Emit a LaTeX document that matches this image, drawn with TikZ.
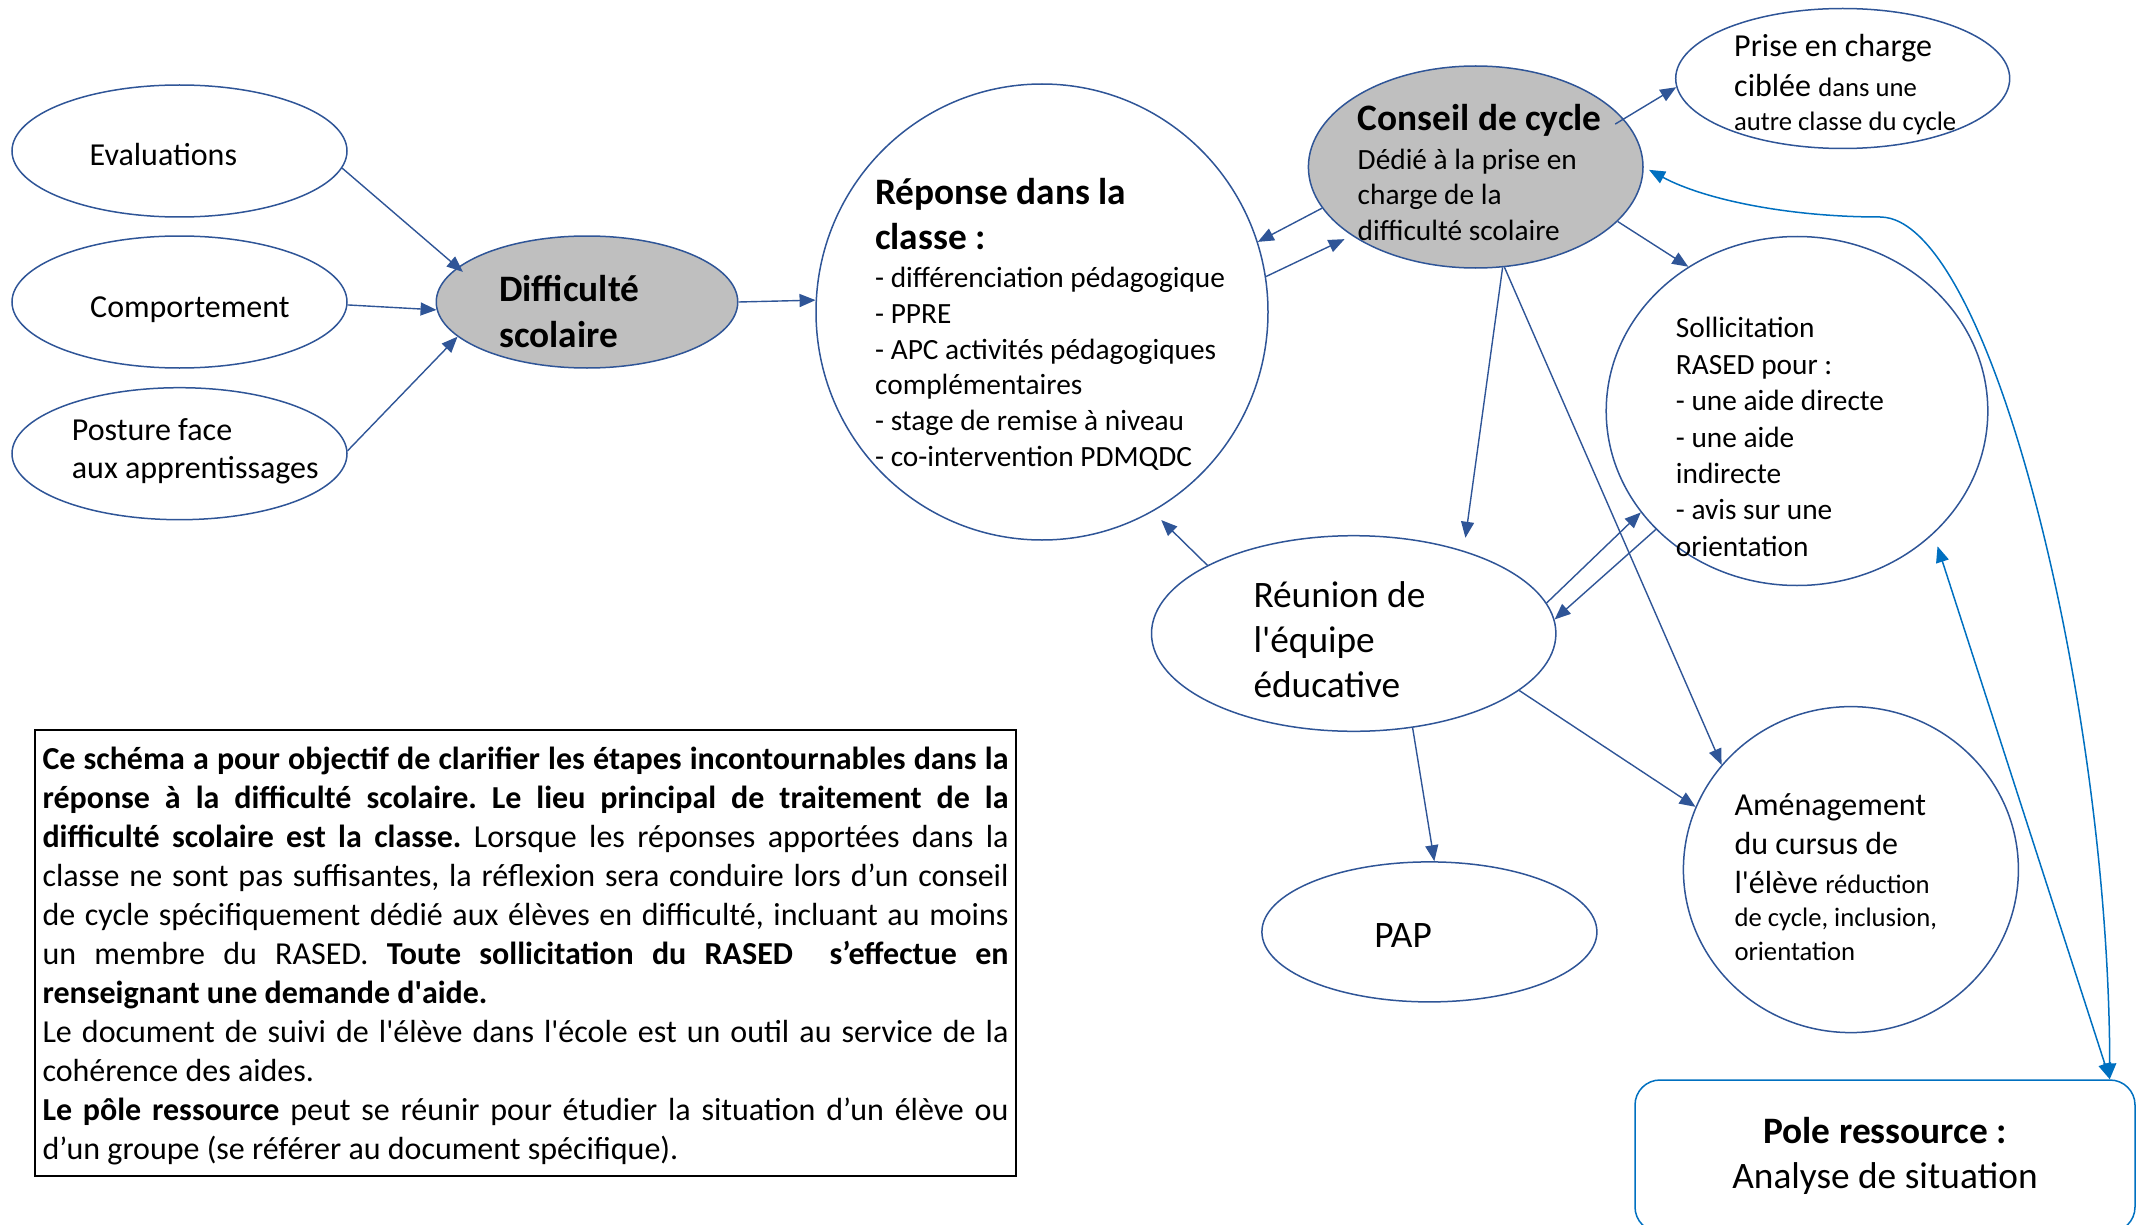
\documentclass[tikz,border=0pt]{standalone}
\usepackage{fontspec}
\setmainfont{Carlito}
\usetikzlibrary{shapes.geometric,arrows.meta}
\definecolor{bl}{HTML}{2F5597}
\definecolor{lb}{HTML}{0070C0}
\definecolor{gr}{HTML}{BFBFBF}
\newcommand{\fsz}[2]{\fontsize{#1}{#2}\selectfont}
\newcommand{\tlines}[1]{\begin{tabular}[t]{@{}l@{}}#1\end{tabular}}
\newcommand{\jl}[1]{\makebox[966pt][s]{#1}}
\newcommand{\aq}{\textquotesingle}
\frenchspacing
\begin{document}
\begin{tikzpicture}[x=1pt,y=-1pt,
  ell/.style={ellipse,draw=bl,line width=1.5pt,inner sep=0pt},
  gell/.style={ell,fill=gr},
  arr/.style={draw=bl,line width=1.4pt,-{Triangle[length=16pt,width=13pt]}},
  darr/.style={draw=lb,line width=1.5pt,{Triangle[length=16pt,width=13pt]}-{Triangle[length=16pt,width=13pt]}},
  txt/.style={anchor=base west,inner sep=0pt}]
\useasboundingbox (0,0) rectangle (2136,1225);

% shapes
\node[ell,minimum width=335pt,minimum height=132pt] (eval) at (179.5,151) {};
\node[ell,minimum width=335pt,minimum height=132pt] (comp) at (179.5,302) {};
\node[ell,minimum width=335pt,minimum height=132pt] (post) at (179.5,453.7) {};
\node[gell,minimum width=301.5pt,minimum height=132pt] (diff) at (587,302) {};
\node[ell,minimum width=452pt,minimum height=456pt] (rep) at (1042,312) {};
\node[gell,minimum width=334.6pt,minimum height=202pt] (cons) at (1475.7,167) {};
\node[ell,minimum width=334pt,minimum height=140pt] (prise) at (1842.7,78.5) {};
\node[ell,minimum width=381.6pt,minimum height=349pt] (sol) at (1797,411) {};
\node[ell,minimum width=404.4pt,minimum height=195.6pt] (reu) at (1353.7,633.5) {};
\node[ell,minimum width=335pt,minimum height=140pt] (pap) at (1429.4,931.9) {};
\node[ell,minimum width=335pt,minimum height=326pt] (amen) at (1850.9,869.6) {};
\node[draw=lb,line width=1.5pt,rounded corners=25pt,minimum width=500pt,minimum height=152pt,inner sep=0pt] (pole) at (1885,1156) {};

% texts
\node[txt] (teval) at (89.5,166) {\fsz{32}{39}Evaluations};
\node[txt] (tcomp) at (90,317.5) {\fsz{32}{39}Comportement};
\node[txt] (tpost) at (71.7,440) {\fsz{32}{38.5}\tlines{Posture face\\aux apprentissages}};
\node[txt] (tdiff) at (499,301) {\fsz{37.33}{46}\bfseries\tlines{Difficulté\\scolaire}};
\node[txt] (trep1) at (875,205) {\fsz{37.33}{44.5}\bfseries\tlines{Réponse dans la\\classe :}};
\node[txt] (trep2) at (875,287.7) {\fsz{29.33}{35.7}\tlines{- différenciation pédagogique\\- PPRE\\- APC activités pédagogiques\\complémentaires\\- stage de remise à niveau\\- co-intervention PDMQDC}};
\node[txt] (tcons1) at (1357.5,130.4) {\fsz{37.33}{45}\bfseries Conseil de cycle};
\node[txt] (tcons2) at (1357.5,169.4) {\fsz{29.33}{35.4}\tlines{Dédié à la prise en\\charge de la\\difficulté scolaire}};
\node[txt] (tprise) at (1734,56.5) {\fsz{32}{40}\tlines{Prise en charge\\ciblée {\fsz{26.67}{33}dans une}\\[-6pt]{\fsz{26.67}{33}autre classe du cycle}}};
\node[txt] (tsol) at (1675.7,337.8) {\fsz{29.33}{36.4}\tlines{Sollicitation\\RASED pour :\\- une aide directe\\- une aide\\indirecte\\- avis sur une\\orientation}};
\node[txt] (treu) at (1253.3,607) {\fsz{37.33}{45}\tlines{Réunion de\\l\aq équipe\\éducative}};
\node[txt] (tpap) at (1374.2,947.5) {\fsz{37.33}{45}PAP};
\node[txt] (tamen) at (1734.3,815) {\fsz{32}{39}\tlines{Aménagement\\du cursus de\\l\aq élève {\fsz{26.67}{33}réduction}\\[-5.5pt]{\fsz{26.67}{33}de cycle, inclusion,}\\[-5.5pt]{\fsz{26.67}{33}orientation}}};
\node[anchor=base,inner sep=0pt] (tpole) at (1885,1143.5) {\fsz{37.33}{45}\begin{tabular}[t]{@{}c@{}}\textbf{Pole ressource :}\\Analyse de situation\end{tabular}};

% note box
\node[draw=black,line width=1.3pt,minimum width=981pt,minimum height=446pt,inner sep=0pt] (note) at (525.5,953) {\fsz{32}{39}\raisebox{-4pt}[\height][\depth]{\begin{tabular}{@{}l@{}}
\jl{\bfseries Ce schéma a pour objectif de clarifier les étapes incontournables dans la}\\
\jl{\bfseries réponse à la difficulté scolaire. Le lieu principal de traitement de la}\\
\jl{\textbf{difficulté scolaire est la classe.} Lorsque les réponses apportées dans la}\\
\jl{classe ne sont pas suffisantes, la réflexion sera conduire lors d’un conseil}\\
\jl{de cycle spécifiquement dédié aux élèves en difficulté, incluant au moins}\\
\jl{un membre du RASED. \textbf{Toute sollicitation du RASED\ \ s’effectue en}}\\
\textbf{renseignant une demande d\aq aide.}\\
\jl{Le document de suivi de l\aq élève dans l\aq école est un outil au service de la}\\
cohérence des aides.\\
\jl{\textbf{Le pôle ressource} peut se réunir pour étudier la situation d’un élève ou}\\
d’un groupe (se référer au document spécifique).
\end{tabular}}};

% connectors
\draw[arr,shorten >=-7pt] (eval.-6) -- (diff.165);
\draw[arr] (comp.-1) -- (diff.183);
\draw[arr] (post.1) -- (diff.195);
\draw[arr] (diff.0) -- (rep.177.5);
\draw[arr] (cons.195) -- (rep.18);
\draw[arr,shorten >=8pt] (rep.9) -- (cons.209);
\draw[arr,shorten <=-10pt] (cons.18) -- (prise.183);
\draw[arr] (cons.-21) -- (sol.127);
\draw[arr,shorten >=13pt] (cons.-75) -- (reu.37);
\draw[arr] (cons.-74) -- (amen.141);
\draw[arr,shorten >=12pt] (reu.155) -- (rep.-61);
\draw[arr] (reu.9.5) -- (sol.213.5);
\draw[arr] (sol.220.7) -- (reu.4.5);
\draw[arr] (reu.-58.5) -- (pap.86);
\draw[arr] (reu.-19.3) -- (amen.158);
\draw[darr,shorten <=13pt] (sol.-42.5) -- ([xshift=-26pt]pole.north east);
\draw[darr,shorten <=6pt] (cons.0) .. controls (1705,200) and (1790,217) .. (1880,217) .. controls (1990,217) and (2109,700) .. ([xshift=-26pt]pole.north east);
\end{tikzpicture}
\end{document}
